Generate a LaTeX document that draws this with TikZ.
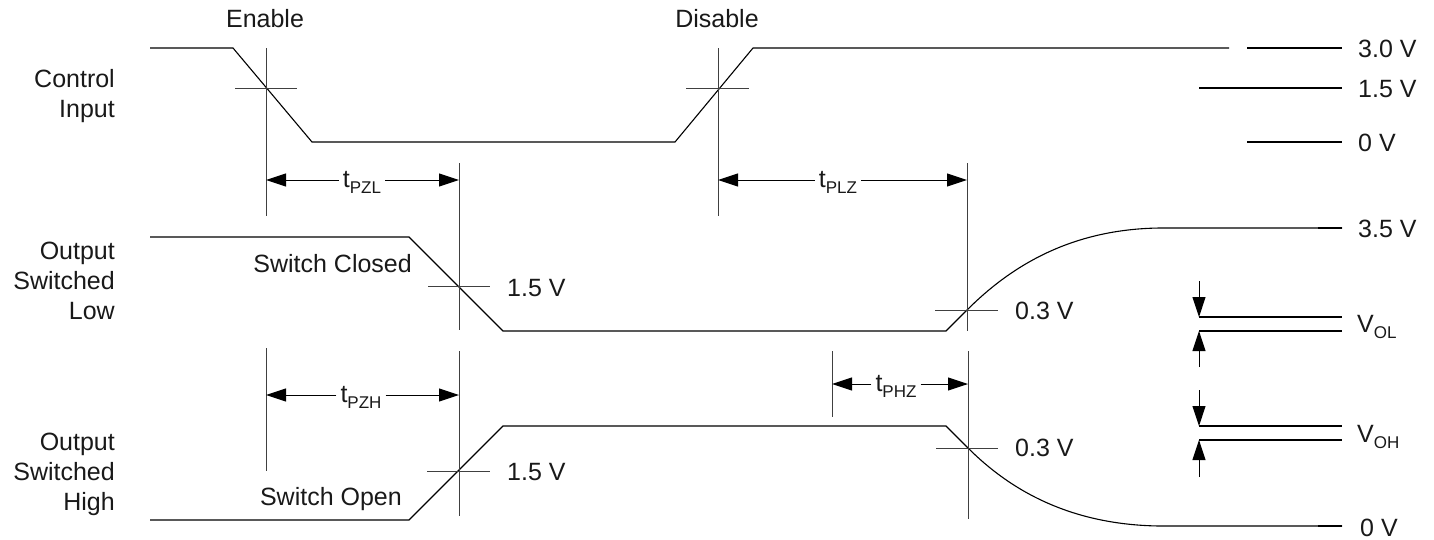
\documentclass[tikz,border=0pt]{standalone}
\usepackage{fontspec}
\setmainfont{Liberation Sans}
\usetikzlibrary{arrows.meta}
\newcommand{\mysub}[2]{#1\raisebox{-6pt}{\fontsize{17}{17}\selectfont #2}}
\begin{document}
\begin{tikzpicture}[x=1pt,y=-1pt,
  sig/.style={line width=1.1pt,black},
  thin/.style={line width=1pt,black!75},
  dimarrow/.style={line width=1pt,black,-{Triangle[length=20pt,width=13pt]}},
  lbl/.style={font=\fontsize{25}{30}\selectfont,inner sep=0pt,text=black!90},
  side/.style={lbl,align=right,anchor=base east},
  tl/.style={lbl,inner xsep=4pt,anchor=base}]
\useasboundingbox (0,0) rectangle (1434,539);

% left labels (anchor at last line baseline)
\node[side] (ci) at (115,117) {Control\\Input};
\node[side] (osl) at (115,319) {Output\\Switched\\Low};
\node[side] (osh) at (115,510) {Output\\Switched\\High};

% top labels
\node[lbl,anchor=base] (en) at (265,27) {Enable};
\node[lbl,anchor=base] (dis) at (717,27) {Disable};

% control input waveform
\draw[sig] (150,48) -- (233,48) -- (312,142) -- (675,142) -- (753,48) -- (1229,48);
\draw[sig] (1247,48) -- (1342,48);
\draw[thin] (235,88) -- (297,88);
\draw[thin] (686,88) -- (749,88);
\draw[thin] (266,48) -- (266,216);
\draw[thin] (718,48) -- (718,216);

% output switched low
\draw[sig] (150,237) -- (409,237) -- (503,331) -- (946,331) -- (967,310)
  .. controls (1010,267) and (1070,229) .. (1160,228) -- (1342,228);
\draw[line width=2.2pt] (1318,228) -- (1342,228);
\draw[thin] (428,286) -- (490,286);
\draw[thin] (935,310) -- (998,310);
\draw[thin] (459,163) -- (459,330);
\draw[thin] (967,163) -- (967,331);
\node[lbl,anchor=base east] (sc) at (412,272) {Switch Closed};
\node[lbl,anchor=base west] (v15a) at (507,296) {1.5 V};
\node[lbl,anchor=base west] (v03a) at (1015,319) {0.3 V};

% output switched high
\draw[sig] (150,520) -- (409,520) -- (503,426) -- (946,426) -- (968,448)
  .. controls (1010,490) and (1070,525) .. (1160,526) -- (1342,526);
\draw[line width=2.2pt] (1318,526) -- (1342,526);
\draw[thin] (427,471) -- (490,471);
\draw[thin] (936,448) -- (998,448);
\draw[thin] (266,348) -- (266,471);
\draw[thin] (459,351) -- (459,516);
\draw[thin] (832,351) -- (832,417);
\draw[thin] (968,351) -- (968,519);
\node[lbl,anchor=base east] (so) at (402,505) {Switch Open};
\node[lbl,anchor=base west] (v15b) at (507,480) {1.5 V};
\node[lbl,anchor=base west] (v03b) at (1015,456) {0.3 V};

% timing dimensions
\coordinate (pzlL) at (266,180); \coordinate (pzlR) at (459,180);
\node[tl] (tpzl) at (362,187) {\mysub{t}{PZL}};
\draw[dimarrow] (tpzl.west |- pzlL) -- (pzlL);
\draw[dimarrow] (tpzl.east |- pzlR) -- (pzlR);

\coordinate (plzL) at (718,180); \coordinate (plzR) at (967,180);
\node[tl] (tplz) at (838,187) {\mysub{t}{PLZ}};
\draw[dimarrow] (tplz.west |- plzL) -- (plzL);
\draw[dimarrow] (tplz.east |- plzR) -- (plzR);

\coordinate (pzhL) at (266,395); \coordinate (pzhR) at (459,395);
\node[tl] (tpzh) at (361,402) {\mysub{t}{PZH}};
\draw[dimarrow] (tpzh.west |- pzhL) -- (pzhL);
\draw[dimarrow] (tpzh.east |- pzhR) -- (pzhR);

\coordinate (phzL) at (832,384); \coordinate (phzR) at (968,384);
\node[tl] (tphz) at (896,391) {\mysub{t}{PHZ}};
\draw[dimarrow] (tphz.west |- phzL) -- (phzL);
\draw[dimarrow] (tphz.east |- phzR) -- (phzR);

% right reference levels
\draw[sig] (1199,88) -- (1342,88);
\draw[sig] (1247,142) -- (1342,142);
\node[lbl,anchor=base west] (r30) at (1358,57) {3.0 V};
\node[lbl,anchor=base west] (r15) at (1358,97) {1.5 V};
\node[lbl,anchor=base west] (r0a) at (1358,151) {0 V};
\node[lbl,anchor=base west] (r35) at (1358,237) {3.5 V};
\node[lbl,anchor=base west] (r0b) at (1360,536) {0 V};

\coordinate (olA) at (1199,281); \coordinate (olT) at (1199,317);
\coordinate (olB) at (1199,367); \coordinate (olU) at (1199,331);
\draw[sig] (olT) -- (1342,317);
\draw[sig] (olU) -- (1342,331);
\draw[dimarrow] (olA) -- (olT);
\draw[dimarrow] (olB) -- (olU);
\node[lbl,anchor=base west] (vol) at (1357,332) {\mysub{V}{OL}};

\coordinate (ohA) at (1199,390); \coordinate (ohT) at (1199,426);
\coordinate (ohB) at (1199,477); \coordinate (ohU) at (1199,440);
\draw[sig] (ohT) -- (1342,426);
\draw[sig] (ohU) -- (1342,440);
\draw[dimarrow] (ohA) -- (ohT);
\draw[dimarrow] (ohB) -- (ohU);
\node[lbl,anchor=base west] (voh) at (1357,442) {\mysub{V}{OH}};
\end{tikzpicture}
\end{document}
